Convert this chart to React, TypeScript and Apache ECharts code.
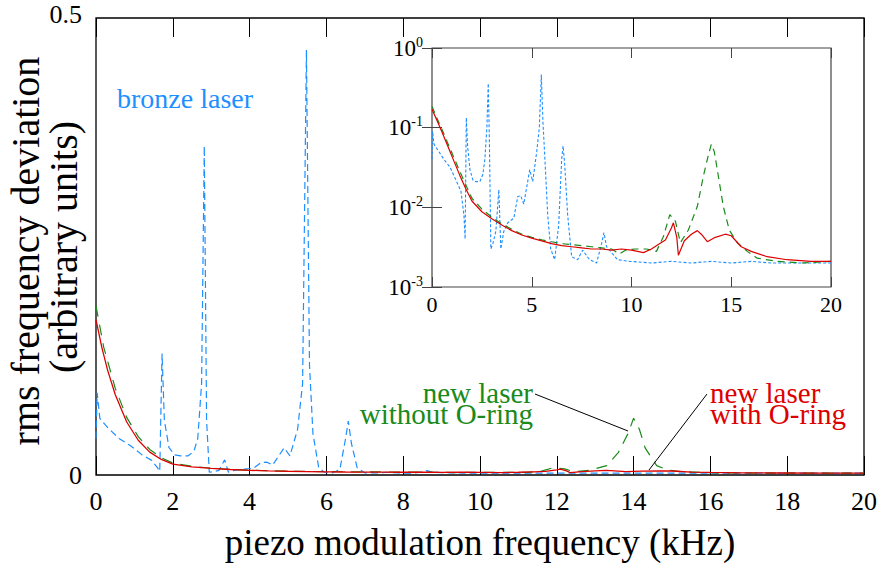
import React, { useEffect, useRef } from "react";
import * as echarts from "echarts";

// bronze laser (blue)
const bronzeFreq = [0, 0.03, 0.1, 0.3, 0.6, 0.9, 1.2, 1.45, 1.6, 1.66, 1.72, 1.78, 1.9, 2.05, 2.2, 2.4, 2.55, 2.65, 2.75, 2.82, 2.88, 2.95, 3.05, 3.2, 3.35, 3.45, 3.6, 3.8, 4.1, 4.3, 4.45, 4.6, 4.9, 5.05, 5.25, 5.38, 5.48, 5.56, 5.65, 5.8, 5.95, 6.15, 6.35, 6.5, 6.57, 6.65, 6.8, 7.0, 7.3, 7.55, 7.9, 8.25, 8.5, 8.62, 8.75, 9.0, 9.3, 9.9, 11, 12, 13, 14, 15, 16, 17, 18, 19, 20];
const bronzeVal = [0.04, 0.09, 0.062, 0.052, 0.04, 0.032, 0.022, 0.016, 0.008, 0.004, 0.133, 0.06, 0.03, 0.022, 0.021, 0.021, 0.026, 0.04, 0.1, 0.36, 0.06, 0.003, 0.0035, 0.005, 0.0166, 0.003, 0.005, 0.0064, 0.0073, 0.0137, 0.014, 0.011, 0.0297, 0.021, 0.05, 0.1, 0.465, 0.12, 0.045, 0.008, 0.003, 0.0022, 0.006, 0.04, 0.059, 0.035, 0.008, 0.0024, 0.0022, 0.0029, 0.0022, 0.002, 0.0035, 0.0048, 0.0032, 0.0027, 0.0022, 0.0021, 0.002, 0.0021, 0.002, 0.0021, 0.002, 0.0021, 0.002, 0.002, 0.002, 0.002];

// new laser without O-ring (green)
const noRingFreq = [0, 0.2, 0.5, 0.8, 1.1, 1.4, 1.7, 2.0, 2.5, 3.0, 3.5, 4.0, 4.5, 5.0, 5.5, 6.0, 6.5, 7.0, 7.5, 8.0, 8.5, 9.0, 9.4, 9.7, 10.2, 10.75, 11.25, 11.6, 11.92, 12.2, 12.45, 12.85, 13.3, 13.6, 13.85, 14.0, 14.15, 14.3, 14.6, 14.9, 15.3, 15.8, 16.3, 17.3, 18.5, 20];
const noRingVal = [0.185, 0.14, 0.095, 0.063, 0.042, 0.028, 0.019, 0.013, 0.0095, 0.0075, 0.0062, 0.0053, 0.0046, 0.0042, 0.0039, 0.0037, 0.0035, 0.0034, 0.0033, 0.0032, 0.0031, 0.003, 0.0026, 0.0029, 0.003, 0.003, 0.0028, 0.0043, 0.0081, 0.0067, 0.0036, 0.0052, 0.0103, 0.0245, 0.045, 0.062, 0.05, 0.0297, 0.0103, 0.0052, 0.0036, 0.0028, 0.0023, 0.0021, 0.002, 0.0021];

// new laser with O-ring (red)
const ringFreq = [0, 0.15, 0.3, 0.5, 0.8, 1.1, 1.4, 1.7, 2.0, 2.5, 3.0, 3.5, 4.0, 4.5, 5.0, 5.5, 6.0, 6.5, 7.0, 7.5, 8.0, 8.5, 9.0, 9.5, 10.0, 10.6, 11.0, 11.4, 11.7, 12.0, 12.1, 12.27, 12.35, 12.65, 13.0, 13.3, 13.5, 13.8, 14.2, 14.7, 15.0, 15.5, 16.0, 16.8, 17.8, 19, 20];
const ringVal = [0.17, 0.14, 0.115, 0.088, 0.058, 0.038, 0.025, 0.017, 0.012, 0.0088, 0.0072, 0.006, 0.0051, 0.0045, 0.0041, 0.0038, 0.0035, 0.0033, 0.0032, 0.0031, 0.003, 0.003, 0.0029, 0.003, 0.0029, 0.0027, 0.003, 0.0035, 0.0039, 0.0055, 0.0064, 0.0042, 0.0025, 0.0038, 0.0046, 0.0051, 0.0046, 0.0037, 0.0042, 0.0046, 0.0044, 0.0032, 0.0028, 0.0024, 0.0022, 0.0021, 0.0021];

const mainYTicks = ["0", "0.5"];
const insetExponents = ["0", "-1", "-2", "-3"];

const BLUE = "#1e8fff";
const GREEN = "#1a8a1a";
const RED = "#dd0000";
const FONT = "serif";

const pairs = (xs: number[], ys: number[]) => xs.map((x, i) => [x, ys[i]]);

export default function App() {
  const ref = useRef<HTMLDivElement>(null);
  useEffect(() => {
    if (!ref.current) return;
    const chart = echarts.init(ref.current, undefined, { renderer: "svg" });
    const blue = pairs(bronzeFreq, bronzeVal);
    const green = pairs(noRingFreq, noRingVal);
    const red = pairs(ringFreq, ringVal);

    const mainX = (pos: string, showLabel: boolean) => ({
      gridIndex: 0,
      type: "value",
      position: pos,
      min: 0,
      max: 20,
      interval: 2,
      axisLine: { show: false },
      axisTick: { show: true, inside: true, length: 19, lineStyle: { color: "#000", width: 1 } },
      axisLabel: { show: showLabel, fontFamily: FONT, fontSize: 26, color: "#000", margin: 13 },
      splitLine: { show: false },
    });
    const insetX = (pos: string, showLabel: boolean) => ({
      gridIndex: 1,
      type: "value",
      position: pos,
      min: 0,
      max: 20,
      interval: 5,
      z: 12,
      axisLine: { show: false },
      axisTick: { show: true, inside: true, length: 10, lineStyle: { color: "#444", width: 1 } },
      axisLabel: { show: showLabel, fontFamily: FONT, fontSize: 22, color: "#000", margin: 6 },
      splitLine: { show: false },
    });
    const insetY = (pos: string, showLabel: boolean) => ({
      gridIndex: 1,
      type: "log",
      logBase: 10,
      position: pos,
      min: 0.001,
      max: 1,
      z: 12,
      axisLine: { show: false },
      axisTick: { show: true, inside: true, length: 10, lineStyle: { color: "#444", width: 1 } },
      minorTick: { show: false },
      axisLabel: {
        show: showLabel,
        margin: 9,
        formatter: (v: number) => {
          const e = Math.round(Math.log10(v));
          const s = insetExponents.find((x) => Number(x) === e) ?? String(e);
          return "{b|10}{s|" + s + "}";
        },
        rich: {
          b: { fontFamily: FONT, fontSize: 23, color: "#000" },
          s: { fontFamily: FONT, fontSize: 14, color: "#000", padding: [0, 0, 12, 0] },
        },
      },
      splitLine: { show: false },
    });

    const ser = (data: number[][], color: string, dash: number[], width: number, inset: boolean, z: number) => ({
      type: "line",
      data,
      xAxisIndex: inset ? 2 : 0,
      yAxisIndex: inset ? 1 : 0,
      showSymbol: false,
      symbol: "none",
      clip: true,
      z,
      lineStyle: { color, width, type: dash.length ? dash : "solid" },
    });

    const label = (text: string, x: number, y: number, fill: string, size: number, align: string, rotation = 0, lh?: number) => ({
      type: "text",
      x,
      y,
      rotation,
      z: 20,
      style: lh ? { text, fontFamily: FONT, fontSize: size, fill, align, lineHeight: lh } : { text, fontFamily: FONT, fontSize: size, fill, align },
    });

    chart.setOption({
      animation: false,
      textStyle: { fontFamily: FONT },
      grid: [
        { left: 96, top: 18, width: 768, height: 457, show: true, borderColor: "#000", borderWidth: 1.3, backgroundColor: "transparent" },
        { left: 432, top: 48, width: 399, height: 239, show: true, borderColor: "#444", borderWidth: 1.2, backgroundColor: "#fff", z: 10 },
      ],
      xAxis: [mainX("bottom", true), mainX("top", false), insetX("bottom", true), insetX("top", false)],
      yAxis: [
        {
          gridIndex: 0,
          type: "value",
          min: 0,
          max: 0.5,
          interval: 0.5,
          axisLine: { show: false },
          axisTick: { show: false },
          splitLine: { show: false },
          axisLabel: {
            margin: 14,
            formatter: (v: number) => (v === 0 ? "{z|" + mainYTicks[0] + "}" : "{t|" + mainYTicks[1] + "}"),
            rich: {
              z: { fontFamily: FONT, fontSize: 26, color: "#000" },
              t: { fontFamily: FONT, fontSize: 26, color: "#000", padding: [0, 0, 8, 0] },
            },
          },
        },
        insetY("left", true),
        insetY("right", false),
      ],
      series: [
        ser(blue, BLUE, [7, 4], 1.2, false, 2),
        ser(green, GREEN, [11, 8], 1.2, false, 3),
        ser(red, RED, [], 1.3, false, 4),
        ser(blue, BLUE, [3, 2], 1.1, true, 11),
        ser(green, GREEN, [7, 5], 1.2, true, 12),
        ser(red, RED, [], 1.2, true, 13),
      ],
      graphic: [
        label("bronze laser", 117, 84, BLUE, 28, "left"),
        label("new laser", 533, 382, GREEN, 29, "right", 0, 21),
        label("without O-ring", 533, 403, GREEN, 29, "right", 0, 21),
        label("new laser", 710, 382, RED, 29, "left", 0, 21),
        label("with O-ring", 710, 403, RED, 29, "left", 0, 21),
        { type: "line", z: 20, shape: { x1: 535, y1: 394, x2: 628, y2: 431 }, style: { stroke: "#000", lineWidth: 1 } },
        { type: "line", z: 20, shape: { x1: 707, y1: 394, x2: 649, y2: 470 }, style: { stroke: "#000", lineWidth: 1 } },
        label("piezo modulation frequency (kHz)", 480, 524, "#000", 37, "center"),
        label("rms frequency deviation", 5, 251, "#000", 40, "center", Math.PI / 2),
        label("(arbitrary units)", 43, 247, "#000", 40, "center", Math.PI / 2),
      ],
    });
    return () => chart.dispose();
  }, []);
  return <div ref={ref} style={{ position: "absolute", left: 0, top: 0, width: 881, height: 565 }} />;
}
